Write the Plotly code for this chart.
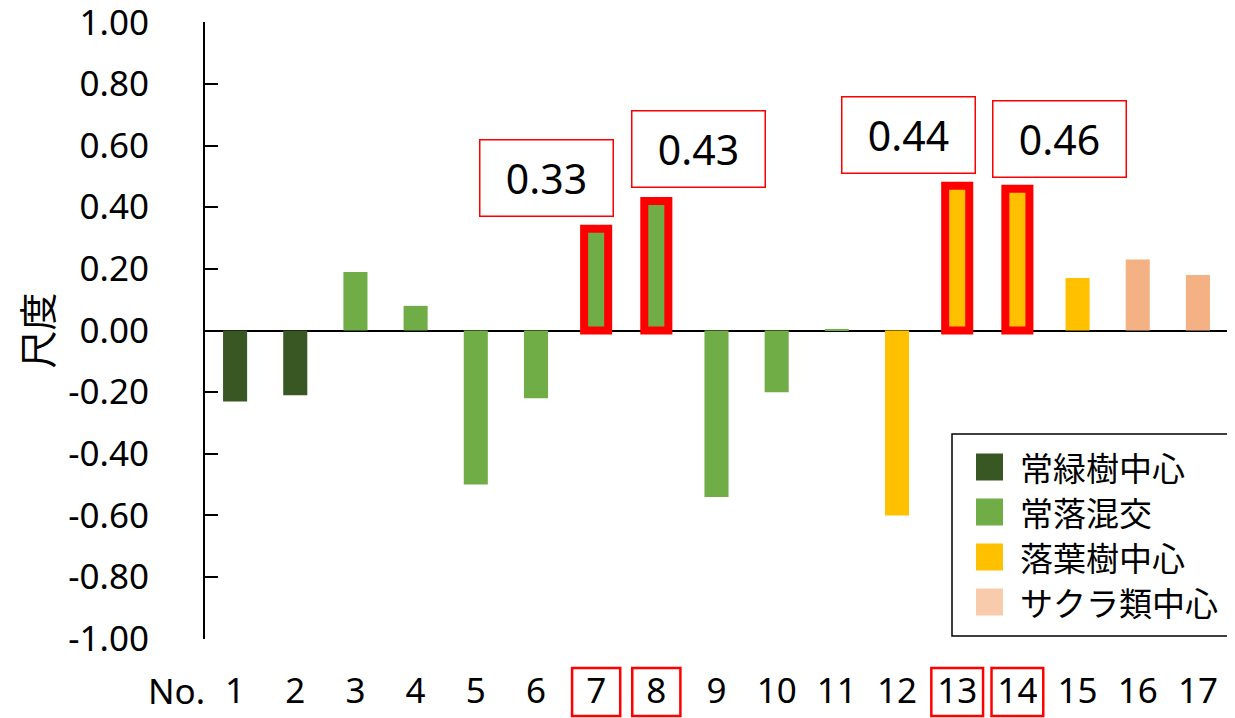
import plotly.graph_objects as go

# ---- data ----
numbers = list(range(1, 18))
values = [-0.23, -0.21, 0.19, 0.08, -0.50, -0.22, 0.33, 0.42, -0.54, -0.20,
          0.005, -0.60, 0.47, 0.46, 0.17, 0.23, 0.18]
groups = ["常緑樹中心", "常緑樹中心", "常落混交", "常落混交", "常落混交", "常落混交",
          "常落混交", "常落混交", "常落混交", "常落混交", "常落混交",
          "落葉樹中心", "落葉樹中心", "落葉樹中心", "落葉樹中心",
          "サクラ類中心", "サクラ類中心"]
group_names = ["常緑樹中心", "常落混交", "落葉樹中心", "サクラ類中心"]
group_colors = {"常緑樹中心": "#385723", "常落混交": "#70AD47",
                "落葉樹中心": "#FFC000", "サクラ類中心": "#F4B183"}
legend_colors = ["#385723", "#70AD47", "#FFC000", "#F8CBAD"]
highlight = [7, 8, 13, 14]
highlight_labels = ["0.33", "0.43", "0.44", "0.46"]
y_ticks = [-1.0, -0.8, -0.6, -0.4, -0.2, 0.0, 0.2, 0.4, 0.6, 0.8, 1.0]
y_title = "尺度"
x_prefix = "No."

# ---- layout helpers (page has an 8px body margin) ----
OFF = 8
W, H = 1227, 710
ML, MR, MT, MB = 197, 7, 14, 79
PW, PH = W - ML - MR, H - MT - MB


def px2x(px):
    # px given in screen pixels
    return (px - OFF - ML) / PW


def py2y(py):
    return (H - MB - (py - OFF)) / PH


FONT = "Noto Sans, Noto Sans CJK JP, sans-serif"
JP = "Noto Sans CJK JP, Noto Sans, sans-serif"

colors = [group_colors[g] for g in groups]
line_w = [8 if n in highlight else 0 for n in numbers]

fig = go.Figure()
fig.add_trace(go.Bar(
    x=numbers, y=values,
    marker=dict(color=colors, line=dict(color="#FF0000", width=line_w)),
    width=0.4, showlegend=False, hoverinfo="x+y",
))

annotations = []
shapes = []

# value label boxes
xshifts = [-50, 42, -49, 42]
yshifts = [12, 13, 12, 11]
for n, lab, xs, ys in zip(highlight, highlight_labels, xshifts, yshifts):
    v = values[numbers.index(n)]
    annotations.append(dict(
        x=n, y=v, xref="x", yref="y", text=lab, showarrow=False,
        xanchor="center", yanchor="bottom", xshift=xs, yshift=ys,
        width=132, height=75, borderpad=0, borderwidth=1.5,
        bordercolor="#FF0000", bgcolor="white",
        font=dict(family=FONT, size=41, color="black"),
    ))

# red boxes around highlighted tick labels
for n in highlight:
    half = 0.43 if n >= 10 else 0.40
    shapes.append(dict(type="rect", xref="x", yref="paper",
                       x0=n - half, x1=n + half, y0=py2y(716), y1=py2y(668),
                       line=dict(color="#FF0000", width=2.5), fillcolor="rgba(0,0,0,0)"))

# "No." label
annotations.append(dict(x=px2x(176), y=py2y(690), xref="paper", yref="paper",
                        text=x_prefix, showarrow=False, xanchor="center", yanchor="middle",
                        font=dict(family=FONT, size=35, color="black")))

# legend (drawn box)
shapes.append(dict(type="rect", xref="paper", yref="paper",
                   x0=px2x(952), x1=px2x(1232), y0=py2y(636), y1=py2y(434),
                   line=dict(color="black", width=1.5), fillcolor="white", layer="above"))
row_y = [467, 512, 557, 602]
for name, col, ry in zip(group_names, legend_colors, row_y):
    shapes.append(dict(type="rect", xref="paper", yref="paper",
                       x0=px2x(976), x1=px2x(1003), y0=py2y(ry + 13.5), y1=py2y(ry - 13.5),
                       line=dict(width=0), fillcolor=col, layer="above"))
    annotations.append(dict(x=px2x(1018), y=py2y(ry), xref="paper", yref="paper",
                            text=name, showarrow=False, xanchor="left", yanchor="middle",
                            font=dict(family=JP, size=33, color="black")))

fig.update_layout(
    width=W, height=H,
    margin=dict(l=ML, r=MR, t=MT, b=MB, autoexpand=False),
    paper_bgcolor="white", plot_bgcolor="white",
    bargap=0.6,
    shapes=shapes, annotations=annotations,
    xaxis=dict(range=[0.5, 17.5], tickmode="array", tickvals=numbers,
               ticktext=[str(n) for n in numbers], showgrid=False, zeroline=False,
               showline=False, ticks="", ticklabelstandoff=28,
               ticklabeloverflow="allow",
               tickfont=dict(family=FONT, size=35, color="black")),
    yaxis=dict(range=[-1.001, 1.001], tickmode="array", tickvals=y_ticks,
               ticktext=[f"{t:.2f}" for t in y_ticks], showgrid=False,
               zeroline=True, zerolinecolor="black", zerolinewidth=2,
               showline=True, linecolor="black", linewidth=2,
               ticks="inside", ticklen=13, tickwidth=2, tickcolor="black",
               ticklabelstandoff=47, ticklabeloverflow="allow",
               tickfont=dict(family=FONT, size=35, color="black"),
               title=dict(text=y_title, standoff=12,
                          font=dict(family=JP, size=38, color="black"))),
)

fig.write_html("out.html")
